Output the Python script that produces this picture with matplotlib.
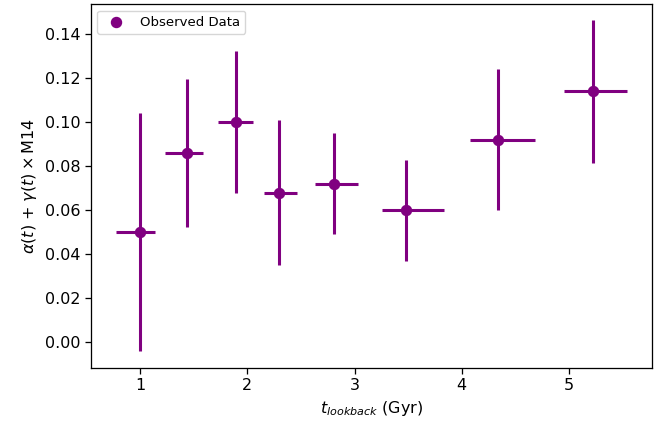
import numpy as np
import matplotlib.pyplot as plt

# bin centres and edges of lookback time (Gyr)
t_mid = [1.00, 1.433, 1.897, 2.293, 2.810, 3.480, 4.335, 5.222]
t_lo = [0.776, 1.234, 1.729, 2.159, 2.636, 3.252, 4.075, 4.953]
t_hi = [1.137, 1.589, 2.056, 2.464, 3.028, 3.832, 4.682, 5.539]

# alpha + gamma * M14 and its uncertainty
val = [0.050, 0.086, 0.100, 0.068, 0.072, 0.060, 0.092, 0.114]
err_up = [0.054, 0.0335, 0.0326, 0.0329, 0.023, 0.0227, 0.032, 0.0323]
err_dn = [0.054, 0.0335, 0.0322, 0.0329, 0.0229, 0.023, 0.032, 0.0326]

t_mid = np.array(t_mid)
xerr = [t_mid - np.array(t_lo), np.array(t_hi) - t_mid]
yerr = [err_dn, err_up]

# original was drawn a bit larger and scaled down, so bump sizes
sc = 1.15
plt.rcParams['font.size'] = 10 * sc
plt.rcParams['axes.linewidth'] = 0.8 * sc
plt.rcParams['xtick.major.width'] = 0.8 * sc
plt.rcParams['ytick.major.width'] = 0.8 * sc
plt.rcParams['xtick.major.size'] = 3.5 * sc
plt.rcParams['ytick.major.size'] = 3.5 * sc

fig, ax = plt.subplots(figsize=(6.71, 4.28), dpi=100)

ax.errorbar(t_mid, val, xerr=xerr, yerr=yerr, fmt='none',
            ecolor='purple', elinewidth=2.2)
ax.scatter(t_mid, val, color='purple', s=52, label='Observed Data', zorder=3)

ax.set_xlabel(r'$t_{lookback}$ (Gyr)')
ax.set_ylabel(r'$\alpha(t)$ + $\gamma(t) \times$M14')
ax.legend(loc='upper left', fontsize='small')

plt.subplots_adjust(left=0.135, right=0.972, top=0.991, bottom=0.141)
plt.savefig('out.png', dpi=100)
